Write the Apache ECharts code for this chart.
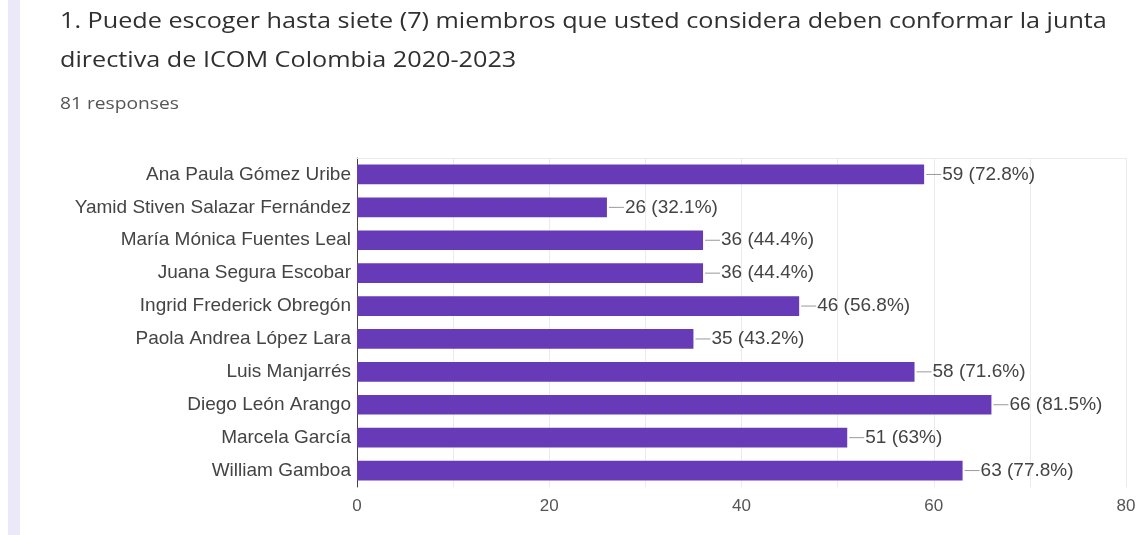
<!DOCTYPE html>
<html lang="es">
<head>
<meta charset="UTF-8">
<title>Junta directiva ICOM Colombia</title>
<script src="https://cdn.jsdelivr.net/npm/echarts@6/dist/echarts.min.js"></script>
<style>
  html, body { margin: 0; padding: 0; background: #fff; }
  #chart { width: 1139px; height: 535px; }
</style>
</head>
<body>
<div id="chart"></div>
<script>
// datos
var candidatos = [
  'Ana Paula Gómez Uribe',
  'Yamid Stiven Salazar Fernández',
  'María Mónica Fuentes Leal',
  'Juana Segura Escobar',
  'Ingrid Frederick Obregón',
  'Paola Andrea López Lara',
  'Luis Manjarrés',
  'Diego León Arango',
  'Marcela García',
  'William Gamboa'
];
var votos = [59, 26, 36, 36, 46, 35, 58, 66, 51, 63];
var respuestas = 81;
var ticks = [0, 20, 40, 60, 80];

var chart = echarts.init(document.getElementById('chart'));

// los textos del encabezado van un poco estirados, como en la captura
function encabezado(txt, y, size, color) {
  return {
    type: 'text', x: 60, y: y, scaleX: 1.2,
    style: { text: txt, fill: color, font: size + 'px "Open Sans", sans-serif', textVerticalAlign: 'middle' }
  };
}

var option = {
  backgroundColor: '#fff',
  animation: false,
  textStyle: { fontFamily: '"Liberation Sans", Arial, sans-serif' },
  graphic: [
    { type: 'rect', shape: { x: 8, y: 0, width: 12, height: 535 }, style: { fill: '#ebe8f7' } },
    encabezado('1. Puede escoger hasta siete (7) miembros que usted considera deben conformar la junta', 22, 21, '#303030'),
    encabezado('directiva de ICOM Colombia 2020-2023', 61, 21, '#303030'),
    encabezado(respuestas + ' responses', 104, 16, '#555')
  ],
  grid: { left: 357, right: 13, top: 158, bottom: 48 },
  xAxis: [{
    type: 'value',
    min: ticks[0],
    max: ticks[ticks.length - 1],
    interval: 10,
    axisLine: { show: false },
    axisTick: { show: false },
    axisLabel: {
      color: '#555',
      fontSize: 17,
      margin: 11,
      formatter: function (v) { return ticks.indexOf(v) >= 0 ? String(v) : ''; }
    },
    splitLine: { lineStyle: { color: '#ebebeb', width: 1 } }
  }, {
    type: 'value',
    position: 'top',
    min: ticks[0],
    max: ticks[ticks.length - 1],
    axisLine: { show: true, lineStyle: { color: '#ebebeb' } },
    axisTick: { show: false },
    axisLabel: { show: false },
    splitLine: { show: false }
  }],
  yAxis: {
    type: 'category',
    inverse: true,
    data: candidatos,
    axisLine: { lineStyle: { color: '#444', width: 1 } },
    axisTick: { show: false },
    axisLabel: { color: '#444', fontSize: 19, margin: 6 }
  },
  series: [{
    type: 'bar',
    data: votos,
    barWidth: '60%',
    itemStyle: { color: '#673ab7' },
    label: {
      show: true,
      position: 'right',
      distance: 2,
      formatter: function (p) {
        var pct = parseFloat((p.value / respuestas * 100).toFixed(1));
        return '{ln| }{t|' + p.value + ' (' + pct + '%)}';
      },
      rich: {
        ln: { width: 15, height: 1, backgroundColor: '#999' },
        t: { color: '#444', fontSize: 19, padding: [0, 0, 0, 1] }
      }
    }
  }]
};

chart.setOption(option);
</script>
</body>
</html>
